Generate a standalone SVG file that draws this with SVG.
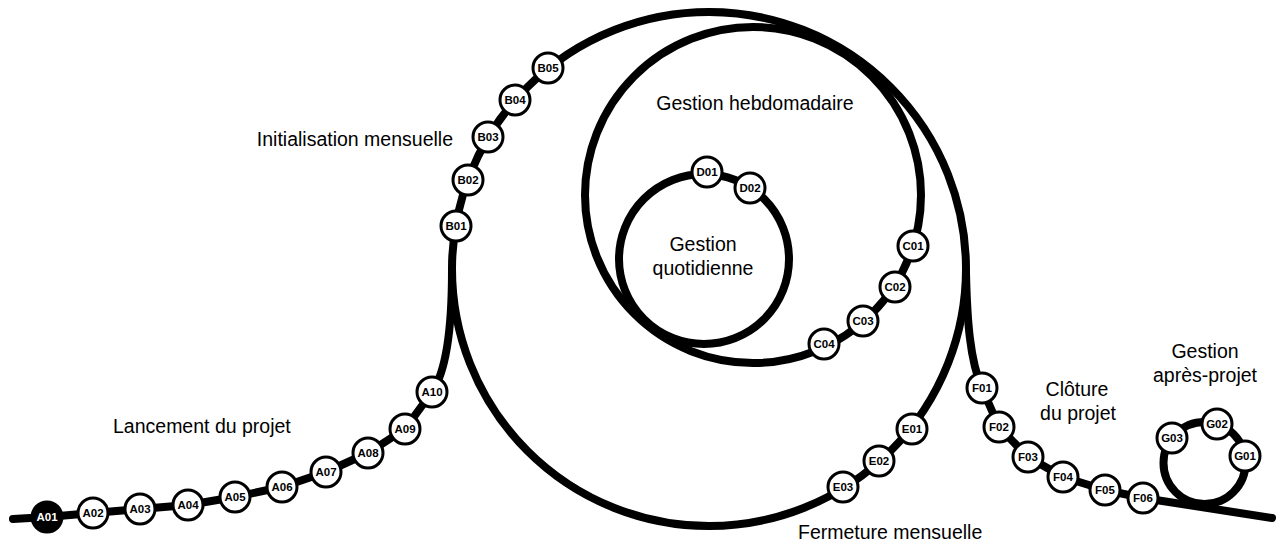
<svg xmlns="http://www.w3.org/2000/svg" width="1276" height="542" viewBox="0 0 1276 542">
<style>
.track{fill:none;stroke:#000;stroke-width:8;stroke-linecap:round;stroke-linejoin:round}
.node circle{fill:#fff;stroke:#000;stroke-width:3}
.node text{font-family:"Liberation Sans",Arial,sans-serif;font-weight:bold;font-size:11.5px;text-anchor:middle;fill:#000}
.node.start circle{fill:#000}
.node.start text{fill:#fff}
.label{font-family:"Liberation Sans",Arial,sans-serif;font-size:19.5px;fill:#000}
.mid{text-anchor:middle}
</style>
<rect width="1276" height="542" fill="#fff"/>
<g id="connectors">
<circle class="track" cx="709" cy="269" r="257"/>
<circle class="track" cx="753" cy="195" r="168"/>
<circle class="track" cx="704" cy="259" r="85"/>
<circle class="track" cx="1204.5" cy="463" r="41"/>
<path class="track" d="M13 519 L47 517 L93 513 L140 509 L188 505 L235 497 L282 487 L326 472 L368 453 L405 429 L432 392 C446 372 452 330 452 270"/>
<path class="track" d="M966 272 C967 320 970 361 982 388 L999 427 L1028 457 L1063 477 L1105 490 L1143 498 L1272 518"/>
</g>
<g id="labels">
<text class="label" x="113" y="433">Lancement du projet</text>
<text class="label" x="453" y="146" text-anchor="end">Initialisation mensuelle</text>
<text class="label mid" x="755" y="110">Gestion hebdomadaire</text>
<text class="label mid" x="703" y="251">Gestion</text>
<text class="label mid" x="703" y="275">quotidienne</text>
<text class="label" x="798" y="539">Fermeture mensuelle</text>
<text class="label mid" x="1077" y="396">Clôture</text>
<text class="label mid" x="1078" y="420">du projet</text>
<text class="label mid" x="1205" y="358">Gestion</text>
<text class="label mid" x="1205" y="382">après-projet</text>
</g>
<g id="A01" class="node start"><circle cx="47" cy="517" r="15"/><text x="47" y="521">A01</text></g>
<g id="A02" class="node"><circle cx="93" cy="513" r="15"/><text x="93" y="517">A02</text></g>
<g id="A03" class="node"><circle cx="140" cy="509" r="15"/><text x="140" y="513">A03</text></g>
<g id="A04" class="node"><circle cx="188" cy="505" r="15"/><text x="188" y="509">A04</text></g>
<g id="A05" class="node"><circle cx="235" cy="497" r="15"/><text x="235" y="501">A05</text></g>
<g id="A06" class="node"><circle cx="282" cy="487" r="15"/><text x="282" y="491">A06</text></g>
<g id="A07" class="node"><circle cx="326" cy="472" r="15"/><text x="326" y="476">A07</text></g>
<g id="A08" class="node"><circle cx="368" cy="453" r="15"/><text x="368" y="457">A08</text></g>
<g id="A09" class="node"><circle cx="405" cy="429" r="15"/><text x="405" y="433">A09</text></g>
<g id="A10" class="node"><circle cx="432" cy="392" r="15"/><text x="432" y="396">A10</text></g>
<g id="B01" class="node"><circle cx="456" cy="226" r="15"/><text x="456" y="230">B01</text></g>
<g id="B02" class="node"><circle cx="468" cy="180" r="15"/><text x="468" y="184">B02</text></g>
<g id="B03" class="node"><circle cx="488" cy="137" r="15"/><text x="488" y="141">B03</text></g>
<g id="B04" class="node"><circle cx="515" cy="100" r="15"/><text x="515" y="104">B04</text></g>
<g id="B05" class="node"><circle cx="548" cy="68" r="15"/><text x="548" y="72">B05</text></g>
<g id="C01" class="node"><circle cx="913" cy="246" r="15"/><text x="913" y="250">C01</text></g>
<g id="C02" class="node"><circle cx="895" cy="287" r="15"/><text x="895" y="291">C02</text></g>
<g id="C03" class="node"><circle cx="863" cy="321" r="15"/><text x="863" y="325">C03</text></g>
<g id="C04" class="node"><circle cx="824" cy="344" r="15"/><text x="824" y="348">C04</text></g>
<g id="D01" class="node"><circle cx="707" cy="172" r="15"/><text x="707" y="176">D01</text></g>
<g id="D02" class="node"><circle cx="750" cy="188" r="15"/><text x="750" y="192">D02</text></g>
<g id="E01" class="node"><circle cx="912" cy="429" r="15"/><text x="912" y="433">E01</text></g>
<g id="E02" class="node"><circle cx="879" cy="461" r="15"/><text x="879" y="465">E02</text></g>
<g id="E03" class="node"><circle cx="843" cy="487" r="15"/><text x="843" y="491">E03</text></g>
<g id="F01" class="node"><circle cx="982" cy="388" r="15"/><text x="982" y="392">F01</text></g>
<g id="F02" class="node"><circle cx="999" cy="427" r="15"/><text x="999" y="431">F02</text></g>
<g id="F03" class="node"><circle cx="1028" cy="457" r="15"/><text x="1028" y="461">F03</text></g>
<g id="F04" class="node"><circle cx="1063" cy="477" r="15"/><text x="1063" y="481">F04</text></g>
<g id="F05" class="node"><circle cx="1105" cy="490" r="15"/><text x="1105" y="494">F05</text></g>
<g id="F06" class="node"><circle cx="1143" cy="498" r="15"/><text x="1143" y="502">F06</text></g>
<g id="G01" class="node"><circle cx="1245" cy="456" r="15"/><text x="1245" y="460">G01</text></g>
<g id="G02" class="node"><circle cx="1217" cy="424" r="15"/><text x="1217" y="428">G02</text></g>
<g id="G03" class="node"><circle cx="1172" cy="438" r="15"/><text x="1172" y="442">G03</text></g>
</svg>
